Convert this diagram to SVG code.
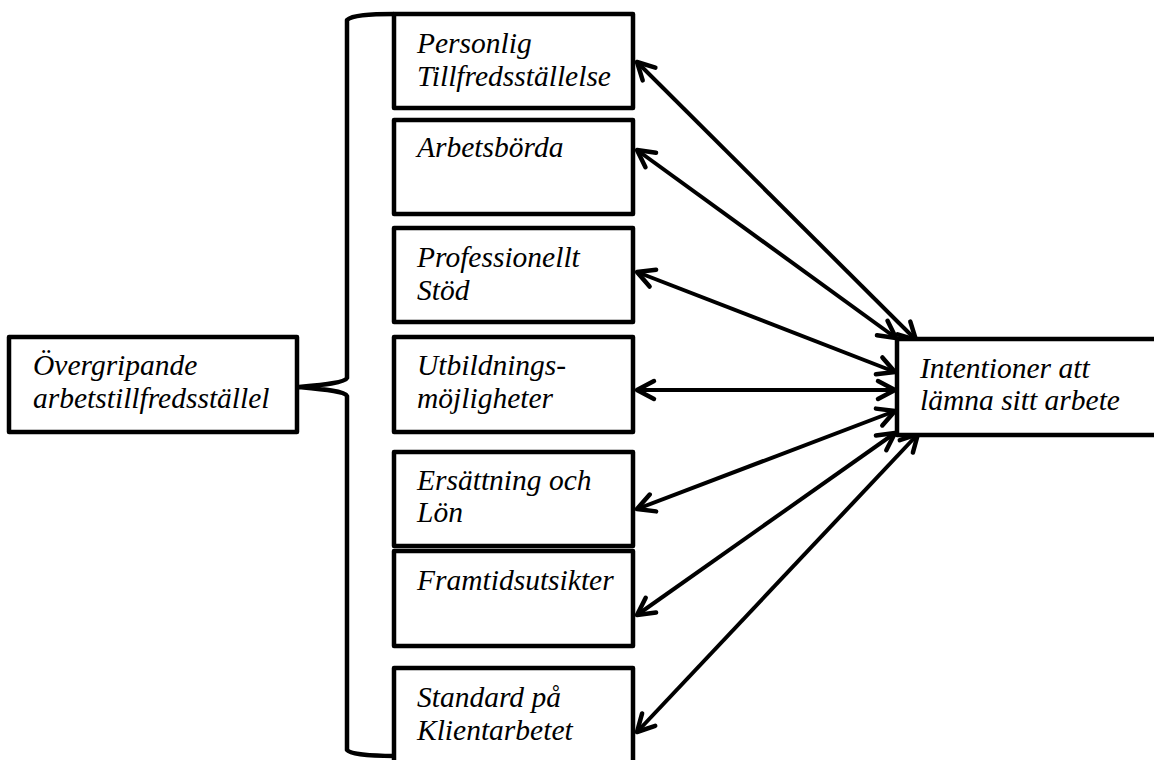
<svg xmlns="http://www.w3.org/2000/svg" width="1154" height="760" viewBox="0 0 1154 760">
<style>
.box{fill:#fff;stroke:#000;stroke-width:4.5;stroke-linejoin:round}
.t{font-family:"Liberation Serif","Times New Roman",serif;font-style:italic;font-size:29.5px;fill:#000}
.con{stroke:#000;stroke-width:4;fill:none;marker-start:url(#ah);marker-end:url(#ah)}
.br{stroke:#000;stroke-width:4.5;fill:none;stroke-linejoin:round}
</style>
<defs>
<marker id="ah" markerUnits="userSpaceOnUse" viewBox="-22 -14 26 28" refX="0" refY="0" markerWidth="26" markerHeight="28" orient="auto-start-reverse" overflow="visible">
<path d="M-17,-9 L0,0 L-17,9" fill="none" stroke="#000" stroke-width="4.5" stroke-linecap="round" stroke-linejoin="round"/>
</marker>
</defs>
<g id="bracket">
<path class="br" d="M394,14 C370,14 352,15 347,20 L347,378 C345,383 320,385 298,387 C320,389 345,391 347,396 L347,750 C350,754 370,756 394,756"/>
</g>
<g id="connectors">
<line class="con" x1="637" y1="62" x2="916" y2="340"/>
<line class="con" x1="637" y1="150" x2="896" y2="338"/>
<line class="con" x1="637" y1="272" x2="895" y2="372"/>
<line class="con" x1="637" y1="390" x2="895" y2="390"/>
<line class="con" x1="637" y1="509" x2="895" y2="411"/>
<line class="con" x1="637" y1="615" x2="895" y2="433"/>
<line class="con" x1="637" y1="732" x2="918" y2="434"/>
</g>
<g id="node-overall">
<rect class="box" x="9" y="337" width="288" height="95"/>
<text class="t" x="33" y="375">Övergripande</text>
<text class="t" x="33" y="408">arbetstillfredsställel</text>
</g>
<g id="node-personlig">
<rect class="box" x="394" y="14" width="239" height="94"/>
<text class="t" x="417" y="53">Personlig</text>
<text class="t" x="417" y="86">Tillfredsställelse</text>
</g>
<g id="node-arbetsborda">
<rect class="box" x="394" y="120" width="239" height="94"/>
<text class="t" x="417" y="157">Arbetsbörda</text>
</g>
<g id="node-professionellt">
<rect class="box" x="394" y="228" width="239" height="94"/>
<text class="t" x="417" y="267">Professionellt</text>
<text class="t" x="417" y="300">Stöd</text>
</g>
<g id="node-utbildning">
<rect class="box" x="394" y="337" width="239" height="95"/>
<text class="t" x="417" y="375">Utbildnings-</text>
<text class="t" x="417" y="408">möjligheter</text>
</g>
<g id="node-ersattning">
<rect class="box" x="394" y="452" width="239" height="94"/>
<text class="t" x="417" y="490">Ersättning och</text>
<text class="t" x="417" y="522">Lön</text>
</g>
<g id="node-framtid">
<rect class="box" x="394" y="551" width="239" height="95"/>
<text class="t" x="417" y="590">Framtidsutsikter</text>
</g>
<g id="node-standard">
<rect class="box" x="394" y="668" width="239" height="97"/>
<text class="t" x="417" y="707">Standard på</text>
<text class="t" x="417" y="740">Klientarbetet</text>
</g>
<g id="node-intentioner">
<rect class="box" x="897" y="339" width="265" height="96"/>
<text class="t" x="920" y="378">Intentioner att</text>
<text class="t" x="920" y="410">lämna sitt arbete</text>
</g>
</svg>
